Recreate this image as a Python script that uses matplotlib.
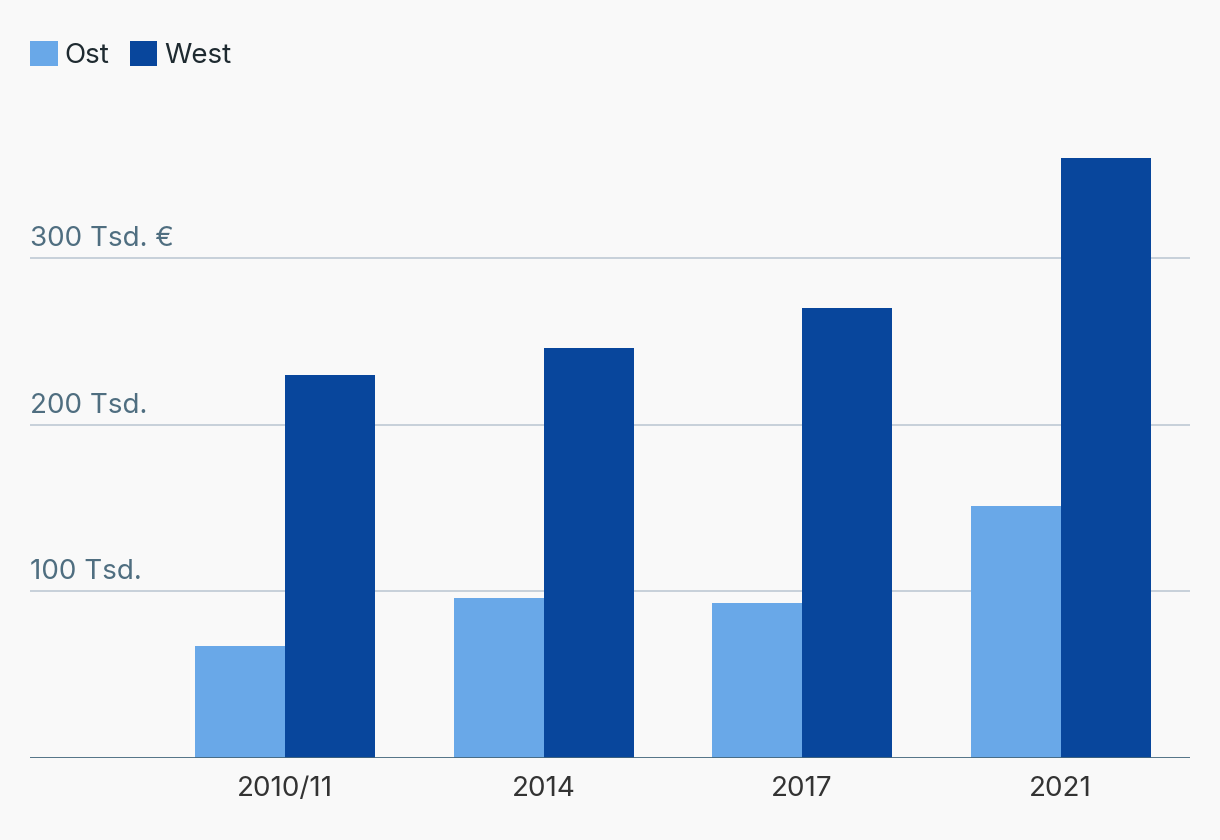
import matplotlib.pyplot as plt
import numpy as np

plt.rcParams['font.family'] = ['Inter', 'DejaVu Sans']

years = ['2010/11', '2014', '2017', '2021']
ost = [67, 96, 93, 151]
west = [230, 246, 270, 360]
grid_vals = [100, 200, 300]
grid_labels = ['100 Tsd.', '200 Tsd.', '300 Tsd. €']

W, H = 1220, 840
fig = plt.figure(figsize=(W / 100, H / 100), dpi=100)
fig.patch.set_facecolor('#f9f9f9')

# axes in pixel coordinates: left 30, right 1190, bottom 758
ymax = 380
px_per_unit = 166.7 / 100
top = 758 - ymax * px_per_unit
ax = fig.add_axes([30 / W, 1 - 758 / H, 1160 / W, (758 - top) / H])
ax.set_facecolor('#f9f9f9')

x = np.arange(len(years))
bw = 0.348
ax.bar(x - bw / 2, ost, bw, color='#69a8e8', label='Ost', zorder=3)
ax.bar(x + bw / 2, west, bw, color='#08469c', label='West', zorder=3)

ax.set_xlim(-0.986, 3.5)
ax.set_ylim(0, ymax)

fs = 20
for v, lab in zip(grid_vals, grid_labels):
    ax.axhline(v, color='#c3cdd7', lw=1.3, zorder=1)
    ax.text(0, v + 3.5, lab, transform=ax.get_yaxis_transform(), ha='left', va='bottom',
            fontsize=fs, color='#4f6e80')
ax.axhline(0, color='#44667c', lw=2, zorder=4)

for s in ax.spines.values():
    s.set_visible(False)
ax.set_yticks([])
ax.set_xticks(x)
ax.set_xticklabels(years, fontsize=fs, color='#333333')
ax.tick_params(axis='x', length=0, pad=13)

leg = fig.legend(loc='upper left', bbox_to_anchor=(30 / W, 1 - 41 / H), ncol=2, frameon=False,
                 fontsize=fs, handlelength=1.0, handleheight=1.0, handletextpad=0.25,
                 columnspacing=0.72, borderaxespad=0, borderpad=0)
for t in leg.get_texts():
    t.set_color('#1e2a30')

fig.savefig('out.png', dpi=100, facecolor=fig.get_facecolor())
